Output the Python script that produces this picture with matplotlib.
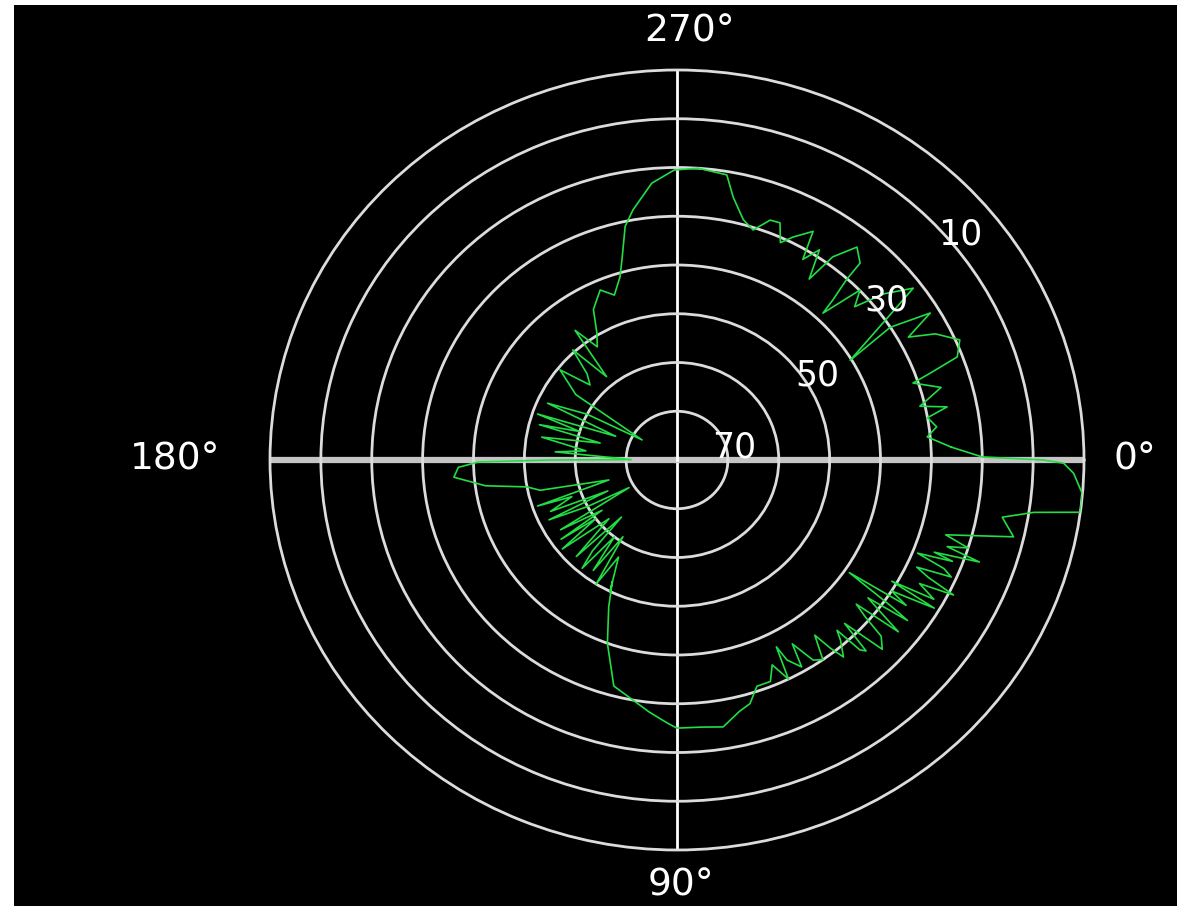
import numpy as np
import matplotlib
matplotlib.use("Agg")
import matplotlib.pyplot as plt
from matplotlib.patches import Rectangle

# measured pattern, angle in degrees (clockwise from right), level in dB (0 = outer ring)
angle_deg = [357.2, 359.4, 0.0, 0.5, 2.0, 5.0, 7.7, 8.7, 10.4, 13.4, 16.2, 17.5, 18.5, 19.4,
             20.5, 21.0, 22.0, 23.0, 24.0, 25.0, 26.0, 27.0, 28.0, 29.5, 30.5, 31.0, 32.5,
             33.5, 34.3, 35.5, 36.0, 37.0, 38.0, 39.0, 40.0, 41.0, 42.0, 43.9, 45.5, 46.5,
             47.3, 48.0, 49.0, 51.0, 52.0, 53.0, 55.0, 56.9, 59.0, 60.0, 62.2, 63.0, 64.0,
             66.0, 68.0, 71.3, 74.0, 76.6, 80.6, 85.0, 90.0, 92.0, 96.0, 100.0, 105.0,
             110.0, 114.0, 117.0, 116.0, 120.0, 122.0, 124.0, 126.0, 128.0, 130.0, 131.7,
             133.0, 135.0, 138.0, 141.0, 143.0, 144.5, 145.0, 148.0, 149.0, 151.5, 154.0,
             155.0, 157.0, 160.0, 161.0, 163.0, 167.0, 169.4, 172.0, 175.4, 178.0,
             179.4, 180.0, 180.5, 184.0, 186.0, 190.0, 193.0, 195.0, 197.0, 199.0, 202.0,
             204.6, 208.0, 211.0, 214.0, 218.8, 222.0, 225.0, 227.8, 231.0, 233.0, 236.0,
             238.9, 242.0, 246.6, 250.0, 253.4, 255.5, 258.0, 260.4, 265.0, 269.5, 274.0,
             279.5, 281.6, 284.8, 287.6, 290.4, 292.6, 294.5, 296.5, 299.7, 301.0, 303.0,
             305.0, 306.3, 309.0, 311.7, 312.0, 313.0, 313.6, 315.9, 318.0, 320.0, 322.8,
             325.0, 329.0, 327.0, 328.8, 331.0, 333.0, 336.1, 339.0, 340.3, 341.2, 344.0,
             347.0, 348.4, 350.0, 352.4, 354.5, 357.2]
level_db = [26.0, 20.0, 8.0, 4.0, 2.0, 0.0, 0.0, 9.0, 15.0, 12.0, 25.0, 20.0, 24.0, 17.0,
            26.0, 22.0, 29.0, 23.0, 21.0, 28.0, 25.0, 19.0, 26.0, 22.0, 31.0, 21.0, 30.0,
            26.0, 39.0, 28.0, 24.0, 33.0, 29.0, 24.0, 34.0, 31.0, 26.0, 24.0, 33.0, 26.0,
            27.0, 33.0, 31.0, 28.0, 31.0, 35.0, 30.0, 31.0, 36.0, 31.0, 33.6, 37.0, 30.0,
            34.0, 31.0, 31.0, 28.0, 27.0, 24.5, 25.0, 25.0, 26.0, 28.0, 30.0, 32.0,
            40.0, 47.0, 52.0, 50.0, 57.0, 50.0, 61.0, 52.0, 60.0, 51.0, 55.0,
            64.0, 52.0, 62.0, 51.0, 60.0, 52.0, 62.0, 53.0, 69.0, 60.0, 52.0,
            65.0, 53.0, 58.0, 51.0, 66.0, 52.4, 50.0, 42.0, 36.0, 37.0,
            41.0, 55.0, 71.0, 56.0, 62.0, 53.0, 64.5, 52.0, 60.0, 51.0, 67.0,
            52.0, 60.0, 72.0, 56.0, 50.5, 57.0, 55.0, 49.5, 58.0, 46.7, 52.0,
            49.5, 45.0, 42.0, 44.0, 40.8, 37.0, 31.0, 28.0, 23.0, 20.5, 20.0,
            20.7, 25.0, 29.0, 30.5, 27.5, 27.3, 31.0, 28.9, 26.0, 32.0, 28.6,
            34.7, 28.3, 23.8, 25.9, 30.2, 35.0, 38.4, 29.9, 33.0, 27.0, 21.7,
            30.0, 40.3, 30.0, 21.8, 28.0, 23.0, 19.2, 21.0, 27.1, 31.0, 26.0,
            31.0, 25.8, 30.0, 28.5, 30.6, 26.0]

ring_levels = [70, 60, 50, 40, 30, 20, 10]
ring_labels = ["70", "50", "30", "10"]
axis_labels = ["0°", "90°", "180°", "270°"]

fig = plt.figure(figsize=(11.84, 9.06), dpi=100, facecolor="white")
fig.patches.append(Rectangle((14 / 1184, 0), 1163 / 1184, 901 / 906,
                             transform=fig.transFigure, facecolor="black",
                             edgecolor="none", zorder=-10))

ax = fig.add_axes([270 / 1184, 56 / 906, 814 / 1184, 780 / 906], projection="polar")
ax.set_facecolor("black")
ax.set_aspect("auto")
ax.set_theta_zero_location("E")
ax.set_theta_direction(-1)
ax.set_ylim(80, 0)
ax.set_axisbelow(True)

ring_color = "#dcdcdc"
ax.set_yticks(ring_levels)
ax.set_yticklabels([])
ax.yaxis.grid(True, color=ring_color, linewidth=2.0)
ax.set_thetagrids([0, 90, 180, 270], labels=[""] * 4)
for i, gl in enumerate(ax.xaxis.get_gridlines()):
    if i % 2 == 0:
        gl.set_color("#c4c4c4")
        gl.set_linewidth(4.5)
    else:
        gl.set_color("white")
        gl.set_linewidth(2.0)
ax.spines["polar"].set_color(ring_color)
ax.spines["polar"].set_linewidth(2.0)

ax.plot(np.deg2rad(angle_deg), level_db, color="#22dd44", linewidth=1.2, zorder=5)

# radial labels sit next to their rings
label_pos = [(346.7, 68.5), (328.0, 47.4), (321.5, 27.3), (320.3, 7.7)]
for txt, (th, r) in zip(ring_labels, label_pos):
    ax.text(np.deg2rad(th), r, txt, color="white", fontsize=25,
            ha="center", va="center", zorder=6)

# angle labels outside the plot
axis_pos = [(1.063, 0.5), (0.505, -0.046), (-0.117, 0.5), (0.515, 1.049)]
for txt, (x, y) in zip(axis_labels, axis_pos):
    ax.text(x, y, txt, color="white", fontsize=27, ha="center", va="center",
            transform=ax.transAxes)

fig.savefig("out.png", dpi=100, facecolor=fig.get_facecolor())
